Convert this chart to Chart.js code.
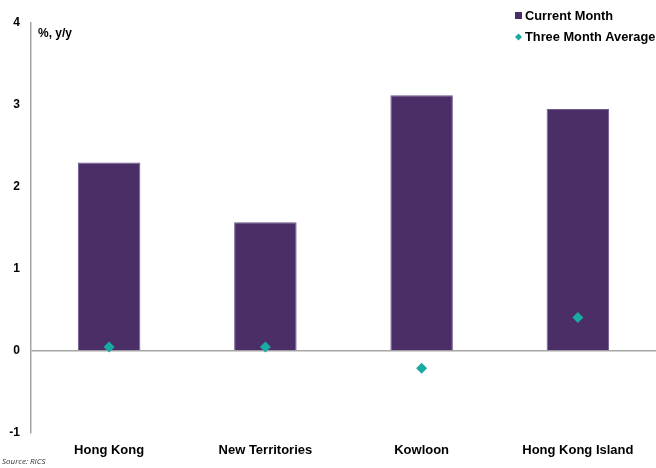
<!DOCTYPE html>
<html>
<head>
<meta charset="utf-8">
<script src="https://cdn.jsdelivr.net/npm/chart.js@4/dist/chart.umd.min.js"></script>
<style>
  html, body { margin: 0; padding: 0; background: #fff; }
  .chart-container { position: relative; width: 656px; height: 468px; }
</style>
</head>
<body>
<div class="chart-container">
  <canvas id="myChart"></canvas>
</div>
<script>
const regions = ['Hong Kong', 'New Territories', 'Kowloon', 'Hong Kong Island'];
const currentMonth = [2.30, 1.57, 3.12, 2.95];
const threeMonthAvg = [0.05, 0.05, -0.21, 0.41];
const yTicks = [-1, 0, 1, 2, 3, 4];

const PURPLE = '#4b2d68';
const TEAL = '#19aaa0';
const AXIS_GREY = '#a6a6a6';
const FONT = '"Liberation Sans", Arial, sans-serif';

// legend, unit label and source note drawn straight onto the canvas
const annotations = {
    id: 'annotations',
    afterDraw(chart) {
        const ctx = chart.ctx;
        const area = chart.chartArea;
        ctx.save();
        ctx.fillStyle = '#000';
        ctx.font = 'bold 12px ' + FONT;
        ctx.textBaseline = 'middle';
        ctx.textAlign = 'left';
        ctx.fillText('%, y/y', area.left + 7, 34);

        // legend
        ctx.fillStyle = PURPLE;
        ctx.fillRect(515, 12, 7, 7);
        ctx.fillStyle = TEAL;
        ctx.beginPath();
        ctx.moveTo(518.5, 33.5);
        ctx.lineTo(522, 37);
        ctx.lineTo(518.5, 40.5);
        ctx.lineTo(515, 37);
        ctx.closePath();
        ctx.fill();
        ctx.fillStyle = '#000';
        ctx.font = 'bold 12.8px ' + FONT;
        ctx.fillText('Current Month', 525, 16);
        ctx.fillText('Three Month Average', 525, 37);

        ctx.font = 'italic 8px "Open Sans", sans-serif';
        ctx.fillStyle = '#333';
        ctx.fillText('Source: RICS', 2, 462);
        ctx.restore();
    }
};

const chartContainer = document.getElementById('myChart');
new Chart(chartContainer, {
    type: 'bar',
    data: {
        labels: regions,
        datasets: [
            {
                label: 'Current Month',
                data: currentMonth,
                backgroundColor: PURPLE,
                borderColor: '#6e5a8c',
                borderWidth: { top: 1, left: 1, right: 1, bottom: 0 },
                categoryPercentage: 1.0,
                barPercentage: 0.40,
                order: 1
            },
            {
                type: 'line',
                label: 'Three Month Average',
                data: threeMonthAvg,
                showLine: false,
                pointStyle: 'rectRot',
                pointRadius: 5.5,
                pointHoverRadius: 5.5,
                backgroundColor: TEAL,
                borderColor: TEAL,
                borderWidth: 0,
                order: 0
            }
        ]
    },
    options: {
        responsive: true,
        maintainAspectRatio: false,
        animation: false,
        layout: {
            autoPadding: false,
            padding: { top: 23, right: 0, left: 0, bottom: 0 }
        },
        plugins: {
            legend: { display: false },
            tooltip: { enabled: false }
        },
        scales: {
            x: {
                grid: { display: false, drawTicks: false },
                border: { display: false },
                ticks: {
                    color: '#000',
                    font: { family: FONT, size: 13, weight: 'bold' },
                    padding: 10,
                    maxRotation: 0
                },
                afterFit(scale) {
                    scale.height = 35;
                    scale.paddingLeft = 0;
                    scale.paddingRight = 0;
                }
            },
            y: {
                min: -1,
                max: 4,
                afterBuildTicks(scale) {
                    scale.ticks = yTicks.map(v => ({ value: v }));
                },
                grid: {
                    drawTicks: false,
                    color: ctx => (ctx.tick && ctx.tick.value === 0 ? AXIS_GREY : 'rgba(0,0,0,0)'),
                    lineWidth: 1.5
                },
                border: { display: true, color: AXIS_GREY, width: 1.5 },
                ticks: {
                    color: '#000',
                    font: { family: FONT, size: 12, weight: 'bold' },
                    padding: 11
                },
                afterFit(scale) {
                    scale.width = 31;
                    scale.paddingTop = 0;
                    scale.paddingBottom = 0;
                }
            }
        }
    },
    plugins: [annotations]
});
</script>
</body>
</html>
